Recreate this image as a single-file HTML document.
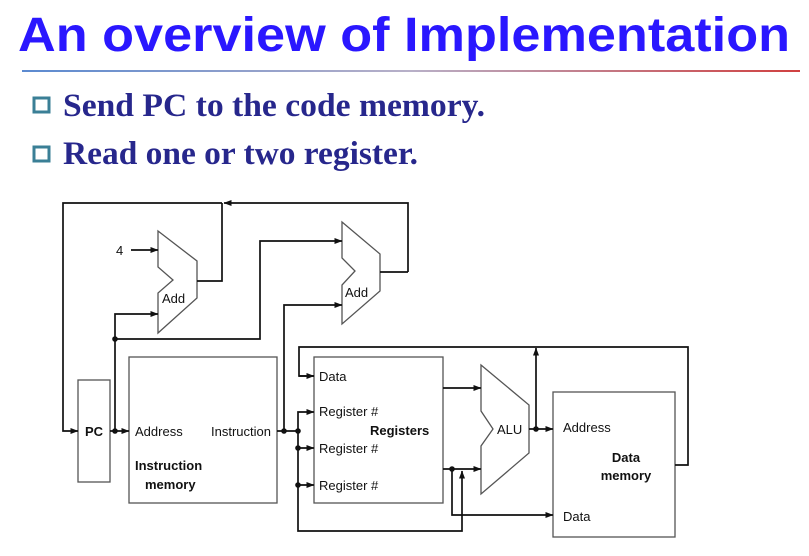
<!DOCTYPE html>
<html><head><meta charset="utf-8"><style>
body{margin:0;background:#fff;width:809px;height:551px;overflow:hidden}
</style></head><body>
<svg width="809" height="551" viewBox="0 0 809 551" xmlns="http://www.w3.org/2000/svg">
<defs>
<linearGradient id="g" x1="0" x2="1"><stop offset="0" stop-color="#5b8ad0"/><stop offset="0.5" stop-color="#b8b0c8"/><stop offset="1" stop-color="#d04040"/></linearGradient>
<marker id="a" markerWidth="8" markerHeight="6" refX="7.5" refY="3" orient="auto" markerUnits="userSpaceOnUse"><path d="M0,0 L8,3 L0,6 z" fill="#111"/></marker>
</defs>
<text x="18" y="51" font-family="Liberation Sans, sans-serif" font-weight="bold" font-size="48" fill="#2a17ff" textLength="772" lengthAdjust="spacingAndGlyphs">An overview of Implementation</text>
<rect x="22" y="70" width="778" height="2" fill="url(#g)"/>
<rect x="34" y="98" width="15" height="14" fill="none" stroke="#3a7f96" stroke-width="3"/>
<rect x="34" y="147" width="15" height="14" fill="none" stroke="#3a7f96" stroke-width="3"/>
<g font-family="Liberation Serif, serif" font-weight="bold" font-size="33" fill="#27278c">
<text x="63" y="116" textLength="422" lengthAdjust="spacingAndGlyphs">Send PC to the code memory.</text>
<text x="63" y="164" textLength="355" lengthAdjust="spacingAndGlyphs">Read one or two register.</text>
</g>
<g fill="none" stroke="#555" stroke-width="1.3">
<rect x="78" y="380" width="32" height="102"/>
<rect x="129" y="357" width="148" height="146"/>
<rect x="314" y="357" width="129" height="146"/>
<rect x="553" y="392" width="122" height="145"/>
<path d="M158,231 L197,261 L197,298 L158,333 L158,293 L173,280 L158,267 Z"/>
<path d="M342,222 L380,254 L380,291 L342,324 L342,285 L355,271 L342,258 Z"/>
<path d="M481,365 L529,405 L529,453 L481,494 L481,446 L493,429 L481,411 Z"/>
</g>
<g fill="none" stroke="#111" stroke-width="1.7">
<path d="M408,272 H380 M408,272 V203 H224" marker-end="url(#a)"/>
<path d="M222,203 H63 V431 H78" marker-end="url(#a)"/>
<path d="M197,281 H222 V203"/>
<path d="M131,250 H158" marker-end="url(#a)"/>
<path d="M110,431 H129" marker-end="url(#a)"/>
<path d="M115,431 V314 H158" marker-end="url(#a)"/>
<path d="M115,339 H260 V241 H342" marker-end="url(#a)"/>
<path d="M277,431 H298 M284,431 V305 H342" marker-end="url(#a)"/>
<path d="M298,431 V412 H314" marker-end="url(#a)"/>
<path d="M298,431 V448 H314" marker-end="url(#a)"/>
<path d="M298,448 V485 H314" marker-end="url(#a)"/>
<path d="M298,485 V531 H462 V471" marker-end="url(#a)"/>
<path d="M314,376 H299 V347 H688 V465 H675"/>
<path d="M299,376 H314" marker-end="url(#a)"/>
<path d="M443,388 H481" marker-end="url(#a)"/>
<path d="M443,469 H481" marker-end="url(#a)"/>
<path d="M452,469 V515 H553" marker-end="url(#a)"/>
<path d="M529,429 H553" marker-end="url(#a)"/>
<path d="M536,429 V348" marker-end="url(#a)"/>
</g>
<g fill="#111">
<circle cx="115" cy="339" r="2.8"/><circle cx="115" cy="431" r="2.8"/>
<circle cx="284" cy="431" r="2.8"/><circle cx="298" cy="431" r="2.8"/>
<circle cx="298" cy="448" r="2.8"/><circle cx="298" cy="485" r="2.8"/>
<circle cx="452" cy="469" r="2.8"/><circle cx="536" cy="429" r="2.8"/>
</g>
<g font-family="Liberation Sans, sans-serif" font-size="13" fill="#111">
<text x="116" y="255">4</text>
<text x="162" y="303">Add</text>
<text x="345" y="297">Add</text>
<text x="94" y="436" text-anchor="middle" font-weight="bold">PC</text>
<text x="135" y="436">Address</text>
<text x="271" y="436" text-anchor="end">Instruction</text>
<text x="135" y="470" font-weight="bold">Instruction</text>
<text x="145" y="489" font-weight="bold">memory</text>
<text x="319" y="381">Data</text>
<text x="319" y="416">Register #</text>
<text x="319" y="453">Register #</text>
<text x="319" y="490">Register #</text>
<text x="370" y="435" font-weight="bold">Registers</text>
<text x="497" y="434">ALU</text>
<text x="563" y="432">Address</text>
<text x="626" y="462" text-anchor="middle" font-weight="bold">Data</text>
<text x="626" y="480" text-anchor="middle" font-weight="bold">memory</text>
<text x="563" y="521">Data</text>
</g>
</svg>
</body></html>
